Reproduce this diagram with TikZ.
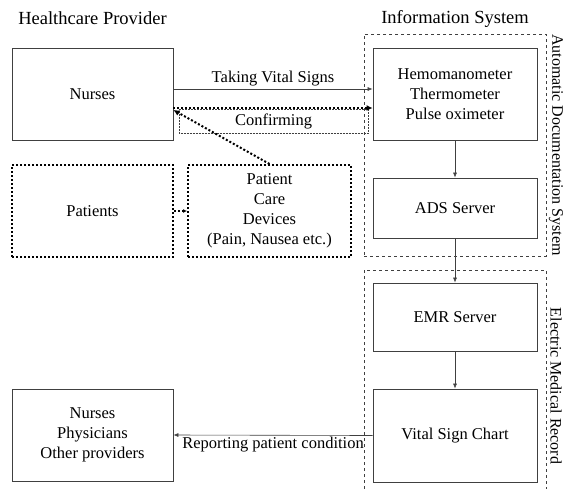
\documentclass[tikz,border=0pt]{standalone}
\usepackage{fontspec}
\setmainfont{Liberation Serif}
\usetikzlibrary{arrows.meta}

\begin{document}
\begin{tikzpicture}[x=1pt,y=-1pt,font=\fontsize{16.5}{20}\selectfont]

    \tikzset{
      box/.style={
        draw=black!75,
        line width=0.8pt,
        align=center,
        inner sep=0pt,
      },
      dotbox/.style={
        draw=black,
        line width=2pt,
        dotted,
        align=center,
        inner sep=0pt,
      },
      group/.style={
        draw=black!75,
        line width=0.7pt,
        dashed,
      },
      heading/.style={
        font=\fontsize{18.5}{22}\selectfont,
      },
      arr/.style={
        draw=black!75,
        line width=0.6pt,
        -{Latex[length=5pt,width=4pt]},
      },
      dotarr/.style={
        draw=black,
        line width=2pt,
        dotted,
        -{Latex[length=6pt,width=6pt]},
      },
    }
    \useasboundingbox (0,0) rectangle (565,488);

    % headings
    \node[heading] (hp) at (92.5,18) {Healthcare Provider};
    \node[heading] (is) at (455,19) {Information System};

    % dashed system groups
    \node[group,minimum width=182pt,minimum height=222pt] (adsgroup) at (455,145) {};
    \draw[group] (364,495) |- (546,270) -- (546,495);
    \node[rotate=-90,font=\fontsize{16}{20}\selectfont] (adslabel) at (556,145) {Automatic Documentation System};
    \node[rotate=-90,font=\fontsize{16}{20}\selectfont] (emrlabel) at (556,386) {Electric Medical Record};

    % provider side
    \node[box,minimum width=161pt,minimum height=92pt] (nurses) at (92.5,94) {Nurses};
    \node[dotbox,minimum width=161pt,minimum height=92pt] (patients) at (92.5,211) {Patients};
    \node[dotbox,minimum width=163pt,minimum height=92pt] (devices) at (269.5,211)
      {Patient\\Care\\Devices\\(Pain, Nausea etc.)};
    \node[box,minimum width=161pt,minimum height=92pt] (others) at (92.5,435)
      {Nurses\\Physicians\\Other providers};

    % system side
    \node[box,minimum width=164pt,minimum height=92pt] (hemo) at (455,94)
      {Hemomanometer\\Thermometer\\Pulse oximeter};
    \node[box,minimum width=164pt,minimum height=60pt] (ads) at (455,208) {ADS Server};
    \node[box,minimum width=164pt,minimum height=68pt] (emr) at (455,317) {EMR Server};
    \node[box,minimum width=164pt,minimum height=93pt] (chart) at (455,435.5) {Vital Sign Chart};

    % connectors
    \draw[arr] ([yshift=5pt]nurses.east) -- node[above,inner sep=3pt] (tvs) {Taking Vital Signs} ([yshift=5pt]hemo.west);
    \node[draw=black!75,line width=0.5pt,densely dotted,minimum width=189pt,minimum height=24pt,inner sep=0pt]
      (conf) at (273.5,121) {Confirming};
    \draw[dotarr] ([yshift=-14pt]nurses.east) -- ([yshift=-14pt]hemo.west);
    \draw[dotarr] (devices.north) -- ([yshift=-16pt]nurses.east);
    \draw[dotarr,-{Latex[length=4pt,width=4pt]}] (patients) -- (devices);
    \draw[arr] (hemo) -- (ads);
    \draw[arr] (ads) -- (emr);
    \draw[arr] (emr) -- (chart);
    \draw[arr] (chart.west) -- node[below,inner sep=1pt] (rpc) {Reporting patient condition} (others.east);

\end{tikzpicture}
\end{document}
